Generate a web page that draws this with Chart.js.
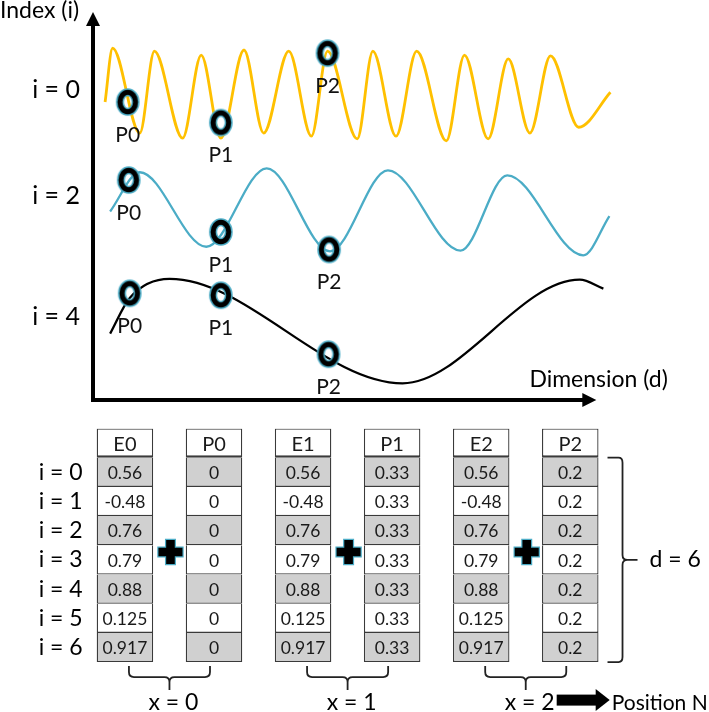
<!DOCTYPE html>
<html><head><meta charset="utf-8">
<script src="https://cdn.jsdelivr.net/npm/chart.js@4.4.1/dist/chart.umd.min.js"></script>
<style>
html,body{margin:0;padding:0;background:#fff;}
#wrap{position:relative;width:709px;height:712px;overflow:hidden;background:#fff;}
#top{position:absolute;left:0;top:0;}
#bottom{position:absolute;left:0;top:415px;}
</style></head><body>
<div id="wrap"><canvas id="top" width="709" height="415"></canvas><canvas id="bottom" width="709" height="297"></canvas></div>
<script>
// ---------------- top panel data ----------------
const axisTitleY = 'Index (i)';
const axisTitleX = 'Dimension (d)';
const levelLabels = ['i = 0', 'i = 2', 'i = 4'];
const levelTickY = [80, 52.5, 21.5];

const waveI0X = [2.4, 3.9, 9.3, 12.2, 17.8, 21.5, 25.4, 30.0, 33.9, 38.9, 43.4, 46.6, 52.5, 55.6, 60.2, 64.3, 70.2, 73.8, 78.5, 82.5, 86.8, 90.9, 96.5, 102.8];
const waveI0Y = [76.8, 90.7, 68.8, 89.9, 67.5, 88.9, 67.5, 90.2, 68.8, 89.9, 68.0, 89.9, 67.3, 89.9, 68.0, 89.9, 66.8, 88.9, 67.3, 87.9, 68.8, 88.7, 70.3, 79.3];
const waveI2X = [3.4, 9.3, 22.5, 34.5, 47.1, 58.6, 73.0, 82.3, 97.4, 102.6];
const waveI2Y = [48.6, 58.7, 39.5, 59.7, 38.3, 59.2, 38.5, 57.9, 37.3, 47.4];
const waveI4X = [3.4, 7.3, 15.2, 61.5, 96.7, 101.4];
const waveI4Y = [17.1, 26.3, 31.2, 4.3, 31.0, 28.7];

const pointNames = ['P0', 'P1', 'P2'];
const marksI0X = [6.9, 25.4, 46.6];
const marksI0Y = [76.8, 71.5, 89.4];
const marksI2X = [7.1, 25.4, 46.9];
const marksI2Y = [56.7, 43.3, 38.8];
const marksI4X = [7.3, 25.4, 46.8];
const marksI4Y = [27.5, 27.0, 11.8];

// ---------------- bottom panel data ----------------
const columnNames = ['E0', 'P0', 'E1', 'P1', 'E2', 'P2'];
const rowNames = ['i = 0', 'i = 1', 'i = 2', 'i = 3', 'i = 4', 'i = 5', 'i = 6'];
const embeddingVals = [0.56, -0.48, 0.76, 0.79, 0.88, 0.125, 0.917];
const posEnc0 = [0, 0, 0, 0, 0, 0, 0];
const posEnc1 = [0.33, 0.33, 0.33, 0.33, 0.33, 0.33, 0.33];
const posEnc2 = [0.2, 0.2, 0.2, 0.2, 0.2, 0.2, 0.2];
const pairLabels = ['x = 0', 'x = 1', 'x = 2'];
const dimLabel = 'd = 6';
const positionLabel = 'Position N';

const FONT = 'Lato';
Chart.defaults.font.family = FONT;

const zip = (xs, ys) => xs.map((x, i) => ({x, y: ys[i]}));

function ringImage() {
  const c = document.createElement('canvas');
  c.width = 32; c.height = 36;
  const g = c.getContext('2d');
  g.beginPath();
  g.ellipse(16, 18, 7.8, 9.8, 0, 0, Math.PI * 2);
  g.strokeStyle = '#4bacc6'; g.lineWidth = 8; g.stroke();
  g.strokeStyle = '#000'; g.lineWidth = 5; g.stroke();
  return c;
}
const ring = ringImage();

const curve = (xs, ys, color, w) => ({
  data: zip(xs, ys), borderColor: color, borderWidth: w, pointRadius: 0,
  cubicInterpolationMode: 'monotone', fill: false, order: 2
});
const marks = (xs, ys) => ({
  data: zip(xs, ys), showLine: false, pointStyle: ring, pointRadius: 11,
  pointHoverRadius: 11, order: 0, isMarks: true
});

const topDecor = {
  id: 'topDecor',
  beforeDatasetsDraw(chart) {
    const {ctx, scales: {x, y}} = chart;
    const ax = x.getPixelForValue(0), ay = y.getPixelForValue(0);
    const yTip = y.getPixelForValue(100), xTip = x.getPixelForValue(100);
    ctx.save();
    ctx.strokeStyle = '#000'; ctx.fillStyle = '#000'; ctx.lineWidth = 4;
    ctx.beginPath(); ctx.moveTo(ax, ay + 2); ctx.lineTo(ax, yTip + 10); ctx.stroke();
    ctx.beginPath(); ctx.moveTo(ax - 2, ay); ctx.lineTo(xTip - 10, ay); ctx.stroke();
    ctx.beginPath(); ctx.moveTo(ax, yTip); ctx.lineTo(ax - 7, yTip + 14); ctx.lineTo(ax + 7, yTip + 14); ctx.closePath(); ctx.fill();
    ctx.beginPath(); ctx.moveTo(xTip, ay); ctx.lineTo(xTip - 14, ay - 7); ctx.lineTo(xTip - 14, ay + 7); ctx.closePath(); ctx.fill();

    ctx.textBaseline = 'alphabetic'; ctx.textAlign = 'left';
    ctx.font = '23px ' + FONT;
    ctx.fillText(axisTitleY, 0, 18);
    ctx.font = '23px ' + FONT;
    ctx.textAlign = 'right';
    ctx.fillText(axisTitleX, x.getPixelForValue(114.2), y.getPixelForValue(3.3));

    ctx.font = '25px ' + FONT;
    ctx.textBaseline = 'middle';
    levelLabels.forEach((lab, k) => ctx.fillText(lab, ax - 13, y.getPixelForValue(levelTickY[k])));
    ctx.restore();
  },
  afterDatasetsDraw(chart) {
    const ctx = chart.ctx;
    ctx.save();
    ctx.font = '21px ' + FONT; ctx.fillStyle = '#111';
    ctx.textAlign = 'center'; ctx.textBaseline = 'middle';
    chart.data.datasets.forEach((ds, d) => {
      if (!ds.isMarks) return;
      chart.getDatasetMeta(d).data.forEach((el, k) => ctx.fillText(pointNames[k], el.x, el.y + 33));
    });
    ctx.restore();
  }
};

new Chart(document.getElementById('top'), {
  type: 'line',
  data: {
    datasets: [
      marks(marksI0X, marksI0Y),
      marks(marksI2X, marksI2Y),
      marks(marksI4X, marksI4Y),
      curve(waveI0X, waveI0Y, '#ffc000', 2.8),
      curve(waveI2X, waveI2Y, '#4bacc6', 2.3),
      curve(waveI4X, waveI4Y, '#000000', 2.3)
    ]
  },
  options: {
    responsive: false, animation: false,
    layout: {padding: {left: 93, right: 7.6, top: 3, bottom: 15}},
    plugins: {legend: {display: false}, tooltip: {enabled: false}},
    scales: {
      x: {type: 'linear', min: 0, max: 120, display: false},
      y: {type: 'linear', min: 0, max: 100, display: false}
    }
  },
  plugins: [topDecor]
});

// ---------------- bottom panel ----------------
const columnVals = [embeddingVals, posEnc0, embeddingVals, posEnc1, embeddingVals, posEnc2];
const bottomDatasets = [{
  data: columnNames.map(() => 1),
  cellText: columnNames,
  backgroundColor: '#ffffff',
  borderColor: '#3a3a3a',
  borderWidth: {top: 1.3, left: 1.3, right: 1.3, bottom: 2.4},
  borderSkipped: false,
  isHeader: true
}].concat(rowNames.map((r, k) => ({
  data: columnNames.map(() => 1),
  cellText: columnVals.map(col => String(col[k])),
  backgroundColor: k % 2 === 0 ? '#d0d0d0' : '#ffffff',
  borderColor: '#3a3a3a',
  borderWidth: 1.3,
  borderSkipped: 'start'
})));

function drawPlus(ctx, cx, cy) {
  const a = 12, t = 4.3;
  ctx.beginPath();
  ctx.moveTo(cx - t, cy - a); ctx.lineTo(cx + t, cy - a); ctx.lineTo(cx + t, cy - t);
  ctx.lineTo(cx + a, cy - t); ctx.lineTo(cx + a, cy + t); ctx.lineTo(cx + t, cy + t);
  ctx.lineTo(cx + t, cy + a); ctx.lineTo(cx - t, cy + a); ctx.lineTo(cx - t, cy + t);
  ctx.lineTo(cx - a, cy + t); ctx.lineTo(cx - a, cy - t); ctx.lineTo(cx - t, cy - t);
  ctx.closePath();
  ctx.strokeStyle = '#4bacc6'; ctx.lineWidth = 2.4; ctx.stroke();
  ctx.fillStyle = '#000'; ctx.fill();
}

const tableDecor = {
  id: 'tableDecor',
  afterDatasetsDraw(chart) {
    const {ctx, scales: {x: xs, y: ys}} = chart;
    ctx.save();
    ctx.fillStyle = '#1a1a1a';
    ctx.textAlign = 'center'; ctx.textBaseline = 'middle';
    chart.data.datasets.forEach((ds, d) => {
      ctx.font = (ds.isHeader ? '20px ' : '17.5px ') + FONT;
      chart.getDatasetMeta(d).data.forEach((el, j) => {
        ctx.fillText(ds.cellText[j], el.x, (el.y + el.base) / 2 + 1);
      });
    });
    const half = chart.getDatasetMeta(0).data[0].width / 2;

    // row labels
    ctx.font = '23px ' + FONT; ctx.fillStyle = '#000'; ctx.textAlign = 'right';
    rowNames.forEach((lab, k) => ctx.fillText(lab, xs.getPixelForValue(0) - half - 14, ys.getPixelForValue(k + 1.5)));

    // plus signs
    for (let p = 0; p < 3; p++) {
      drawPlus(ctx, (xs.getPixelForValue(2 * p) + xs.getPixelForValue(2 * p + 1)) / 2 + 1, ys.getPixelForValue(4.23));
    }

    // bottom braces
    ctx.strokeStyle = '#222'; ctx.lineWidth = 1.8; ctx.fillStyle = '#000';
    ctx.textAlign = 'center'; ctx.textBaseline = 'alphabetic'; ctx.font = '23px ' + FONT;
    let lastC = 0;
    pairLabels.forEach((lab, p) => {
      const l = xs.getPixelForValue(2 * p) + 4, r = xs.getPixelForValue(2 * p + 1) - 4, c = (l + r) / 2;
      const top = ys.bottom + 4, mid = ys.bottom + 15, tip = ys.bottom + 28, rad = 5;
      ctx.beginPath();
      ctx.moveTo(l, top); ctx.lineTo(l, mid - rad); ctx.quadraticCurveTo(l, mid, l + rad, mid);
      ctx.lineTo(c - rad, mid); ctx.quadraticCurveTo(c, mid, c, mid + rad); ctx.lineTo(c, tip);
      ctx.moveTo(c, mid + rad); ctx.quadraticCurveTo(c, mid, c + rad, mid);
      ctx.lineTo(r - rad, mid); ctx.quadraticCurveTo(r, mid, r, mid - rad); ctx.lineTo(r, top);
      ctx.stroke();
      ctx.fillText(lab, c + 4, ys.bottom + 48);
      lastC = c;
    });

    // arrow -> Position N
    const w = ctx.measureText(pairLabels[2]).width;
    const a0 = lastC + 4 + w / 2 + 2, ay = ys.bottom + 38;
    ctx.fillRect(a0, ay - 5.5, 41, 11);
    ctx.beginPath(); ctx.moveTo(a0 + 39, ay - 11); ctx.lineTo(a0 + 53, ay); ctx.lineTo(a0 + 39, ay + 11); ctx.closePath(); ctx.fill();
    ctx.textAlign = 'left';
    ctx.font = '21px ' + FONT;
    const px0 = a0 + 55;
    ctx.fillText(positionLabel, px0, ys.bottom + 48, chart.width - px0 - 1);

    // right brace
    const bx = xs.getPixelForValue(5) + half + 9;
    const bt = ys.getPixelForValue(1), bb = ys.getPixelForValue(8), bm = (bt + bb) / 2;
    ctx.beginPath();
    ctx.moveTo(bx, bt); ctx.lineTo(bx + 11, bt); ctx.quadraticCurveTo(bx + 15, bt, bx + 15, bt + 5);
    ctx.lineTo(bx + 15, bm - 5); ctx.quadraticCurveTo(bx + 15, bm, bx + 20, bm); ctx.lineTo(bx + 30, bm);
    ctx.moveTo(bx + 20, bm); ctx.quadraticCurveTo(bx + 15, bm, bx + 15, bm + 5);
    ctx.lineTo(bx + 15, bb - 5); ctx.quadraticCurveTo(bx + 15, bb, bx + 11, bb); ctx.lineTo(bx, bb);
    ctx.stroke();
    ctx.textBaseline = 'middle';
    ctx.font = '23px ' + FONT;
    ctx.fillText(dimLabel, bx + 42, bm);
    ctx.restore();
  }
};

new Chart(document.getElementById('bottom'), {
  type: 'bar',
  data: {labels: columnNames, datasets: bottomDatasets},
  options: {
    responsive: false, animation: false,
    layout: {padding: {left: 80.4, right: 94.2, top: 13.5, bottom: 49.9}},
    plugins: {legend: {display: false}, tooltip: {enabled: false}},
    datasets: {bar: {barThickness: 56.5, inflateAmount: 0}},
    scales: {
      x: {type: 'category', stacked: true, display: false, offset: true},
      y: {type: 'linear', stacked: true, min: 0, max: 8, reverse: true, display: false}
    }
  },
  plugins: [tableDecor]
});
</script>
</body></html>
